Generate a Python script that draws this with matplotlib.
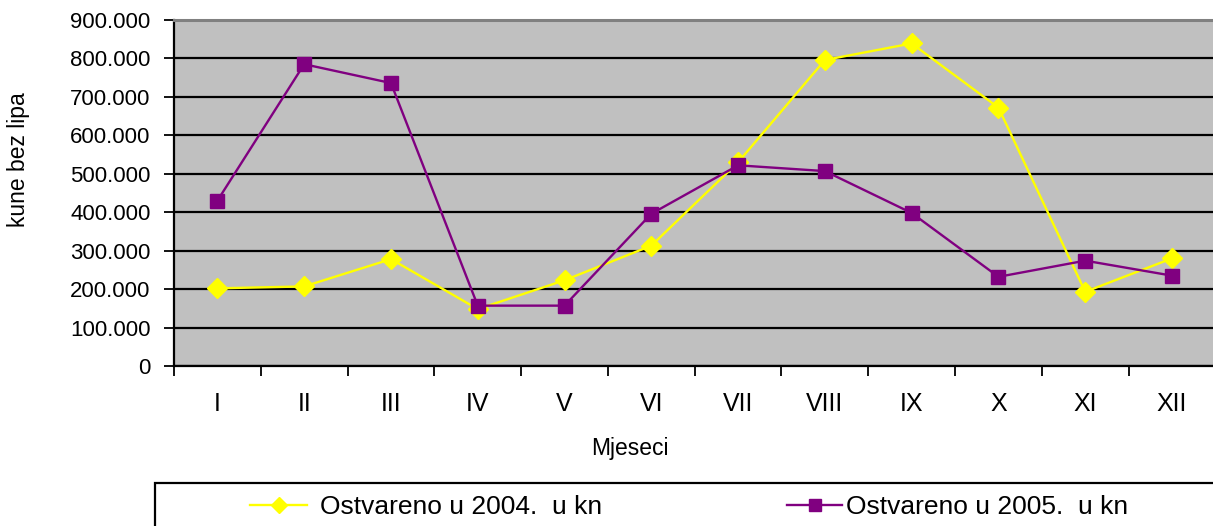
import matplotlib.pyplot as plt
from matplotlib.patches import Rectangle
from matplotlib.ticker import FuncFormatter, MultipleLocator

plt.rcParams['font.family'] = ['Liberation Sans', 'DejaVu Sans']

months = ['I', 'II', 'III', 'IV', 'V', 'VI', 'VII', 'VIII', 'IX', 'X', 'XI', 'XII']
y2004 = [202000, 207000, 278000, 148000, 223000, 313000, 530000, 796000, 839000, 672000, 193000, 280000]
y2005 = [430000, 785000, 736000, 157000, 157000, 396000, 522000, 507000, 398000, 232000, 274000, 235000]

W, H = 1213, 526
fig = plt.figure(figsize=(W / 100, H / 100), dpi=100)
ax = fig.add_axes([174 / W, 1 - 366 / H, 1 - 174 / W + 0.002, (366 - 20) / H])
ax.set_facecolor('#C0C0C0')

x = list(range(len(months)))
l1, = ax.plot(x, y2004, color='#FFFF00', lw=1.7, marker='D', ms=10.5, mec='#FFFF00', zorder=3)
l2, = ax.plot(x, y2005, color='#800080', lw=1.7, marker='s', ms=9.8, mec='#800080', zorder=4)

ax.set_xlim(-0.5, 11.5)
ax.set_ylim(0, 900000)
ax.yaxis.set_major_locator(MultipleLocator(100000))
ax.yaxis.set_major_formatter(FuncFormatter(lambda v, p: f"{v:,.0f}".replace(',', '.')))
ax.grid(axis='y', color='black', lw=1.6, zorder=1)
ax.set_axisbelow(True)

# ticks between months, labels centred on months
ax.set_xticks([i - 0.5 for i in range(13)])
ax.set_xticklabels([])
ax.set_xticks(x, minor=True)
ax.set_xticklabels(months, minor=True, fontsize=18)
ax.tick_params(axis='x', which='minor', length=0, pad=19)
ax.tick_params(axis='x', which='major', length=7, width=1.3, direction='out')
ax.tick_params(axis='y', length=7, width=1.3, direction='out', labelsize=16, pad=10)

for s in ['left', 'bottom']:
    ax.spines[s].set_color('black')
    ax.spines[s].set_linewidth(1.6)
ax.spines['right'].set_visible(False)
ax.spines['top'].set_color('#808080')
ax.spines['top'].set_linewidth(2.2)

fig.text(630 / W, 1 - 448 / H, 'Mjeseci', fontsize=16.5, ha='center', va='center')
fig.text(19 / W, 1 - 160 / H, 'kune bez lipa', rotation=90, fontsize=16.5, ha='center', va='center')

# legend box
fig.patches.append(Rectangle((155 / W, -0.1), 1, (1 - 483 / H) + 0.1, transform=fig.transFigure,
                             fill=False, edgecolor='black', lw=1.6))
fig.legend([l1], ['Ostvareno u 2004.  u kn'],
           loc='center left', bbox_to_anchor=(250 / W, 1 - 507 / H),
           frameon=False, fontsize=19, handlelength=2.16, handletextpad=0.5,
           borderpad=0, borderaxespad=0, markerscale=0.75)
fig.legend([l2], ['Ostvareno u 2005.  u kn'],
           loc='center left', bbox_to_anchor=(787 / W, 1 - 507 / H),
           frameon=False, fontsize=19, handlelength=2.1, handletextpad=0.12,
           borderpad=0, borderaxespad=0, markerscale=0.9)

fig.savefig('out.png', dpi=100)
